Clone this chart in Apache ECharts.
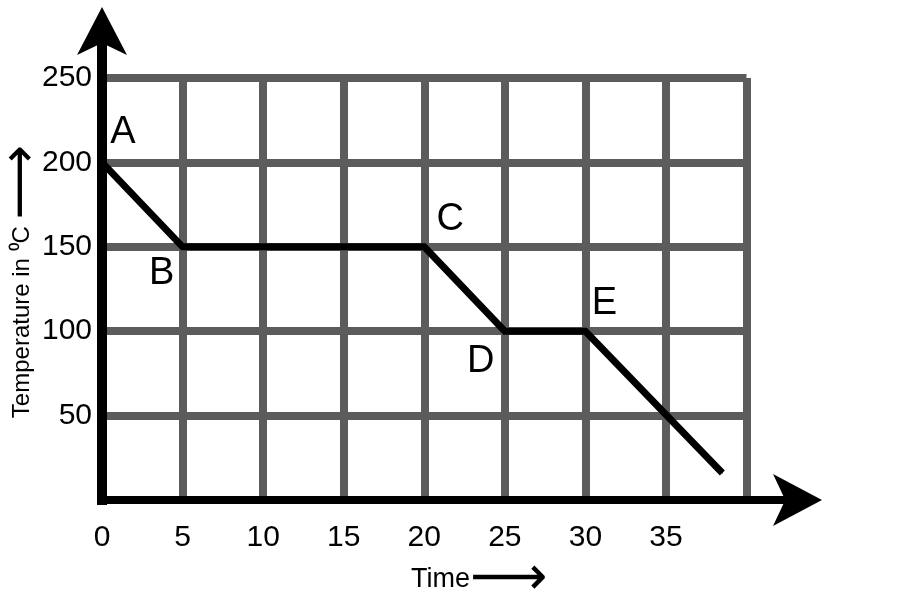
<!DOCTYPE html>
<html><head><meta charset="utf-8">
<script src="https://cdn.jsdelivr.net/npm/echarts@6/dist/echarts.min.js"></script>
<style>html,body{margin:0;background:#fff}#c{width:900px;height:600px}</style>
</head><body><div id="c"></div>
<script>
// ---- data ----
const timeValues = [0, 5, 20, 25, 30, 38.5];
const temperatureValues = [200, 150, 150, 100, 100, 16];
const pointNames = ['A', 'B', 'C', 'D', 'E', ''];
const xTickLabels = ['0', '5', '10', '15', '20', '25', '30', '35'];
const yTickLabels = ['50', '100', '150', '200', '250'];
const xAxisTitle = 'Time';
const yAxisTitle = 'Temperature in ⁰C';

// ---- styling ----
const FONT = 'Liberation Sans, Arial, Helvetica, sans-serif';
const GRIDC = '#5c5c5c';
const labelOffsets = [[21, -30], [-21, 27], [26, -27], [-24, 30], [19, -28], [0, 0]];

const chart = echarts.init(document.getElementById('c'), null, { renderer: 'canvas' });
chart.setOption({
  backgroundColor: '#fff',
  animation: false,
  grid: [
    { left: 102, right: 153.5, top: 78, bottom: 100, outerBoundsMode: 'none' },
    { left: 102, right: 103, top: 31, bottom: 100, outerBoundsMode: 'none' }
  ],
  xAxis: [
    {
      type: 'value', gridIndex: 0, min: 0, max: 40, interval: 5,
      axisLine: { show: false }, axisTick: { show: false },
      splitLine: { show: true, lineStyle: { color: GRIDC, width: 8 } },
      axisLabel: {
        show: true, margin: 23, fontSize: 30, fontFamily: FONT, color: '#000',
        formatter: v => (xTickLabels.includes(String(v)) ? String(v) : '')
      },
      name: xAxisTitle + '{arr|⟶}',
      nameLocation: 'middle', nameGap: 66, nameMoveOverlap: false,
      nameTextStyle: {
        fontSize: 27, lineHeight: 28, fontFamily: FONT, color: '#000', padding: [0, 0, 0, 110],
        rich: { arr: { fontSize: 54, lineHeight: 28, fontFamily: 'DejaVu Sans', color: '#000' } }
      }
    },
    {
      type: 'value', gridIndex: 1, min: 0, max: 1, z: 5,
      axisLine: { show: true, onZero: false, symbol: ['none', 'arrow'], symbolSize: [39, 49],
        symbolOffset: [0, 25],
        lineStyle: { color: '#000', width: 8, cap: 'square' } },
      axisTick: { show: false }, axisLabel: { show: false }, splitLine: { show: false }
    }
  ],
  yAxis: [
    {
      type: 'value', gridIndex: 0, min: 0, max: 250, interval: 50,
      axisLine: { show: false }, axisTick: { show: false },
      splitLine: { show: true, lineStyle: { color: GRIDC, width: 8 } },
      axisLabel: {
        show: true, margin: 10, fontSize: 30, fontFamily: FONT, color: '#000', padding: [4, 0, 0, 0],
        formatter: v => (yTickLabels.includes(String(v)) ? String(v) : '')
      },
      name: yAxisTitle + ' {arr|⟶}',
      nameLocation: 'middle', nameGap: 67, nameRotate: 90, nameMoveOverlap: false,
      nameTextStyle: {
        fontSize: 24, lineHeight: 26, fontFamily: FONT, color: '#000', padding: [0, 0, 0, 15],
        rich: { arr: { fontSize: 52, lineHeight: 26, fontFamily: 'DejaVu Sans', color: '#000' } }
      }
    },
    {
      type: 'value', gridIndex: 1, min: 0, max: 1, z: 5,
      axisLine: { show: true, onZero: false, symbol: ['none', 'arrow'], symbolSize: [37.5, 48],
        symbolOffset: [0, 24],
        lineStyle: { color: '#000', width: 10, cap: 'square' } },
      axisTick: { show: false }, axisLabel: { show: false }, splitLine: { show: false }
    }
  ],
  series: [{
    type: 'line', xAxisIndex: 0, yAxisIndex: 0, z: 3,
    symbol: 'circle', symbolSize: 1, showSymbol: true,
    itemStyle: { color: '#000' },
    lineStyle: { color: '#000', width: 7, join: 'miter' },
    label: { show: true, position: 'inside', fontSize: 38, fontFamily: FONT, color: '#000' },
    data: timeValues.map((t, i) => ({
      value: [t, temperatureValues[i]],
      label: { formatter: pointNames[i], offset: labelOffsets[i] }
    }))
  }]
});
</script>
</body></html>
